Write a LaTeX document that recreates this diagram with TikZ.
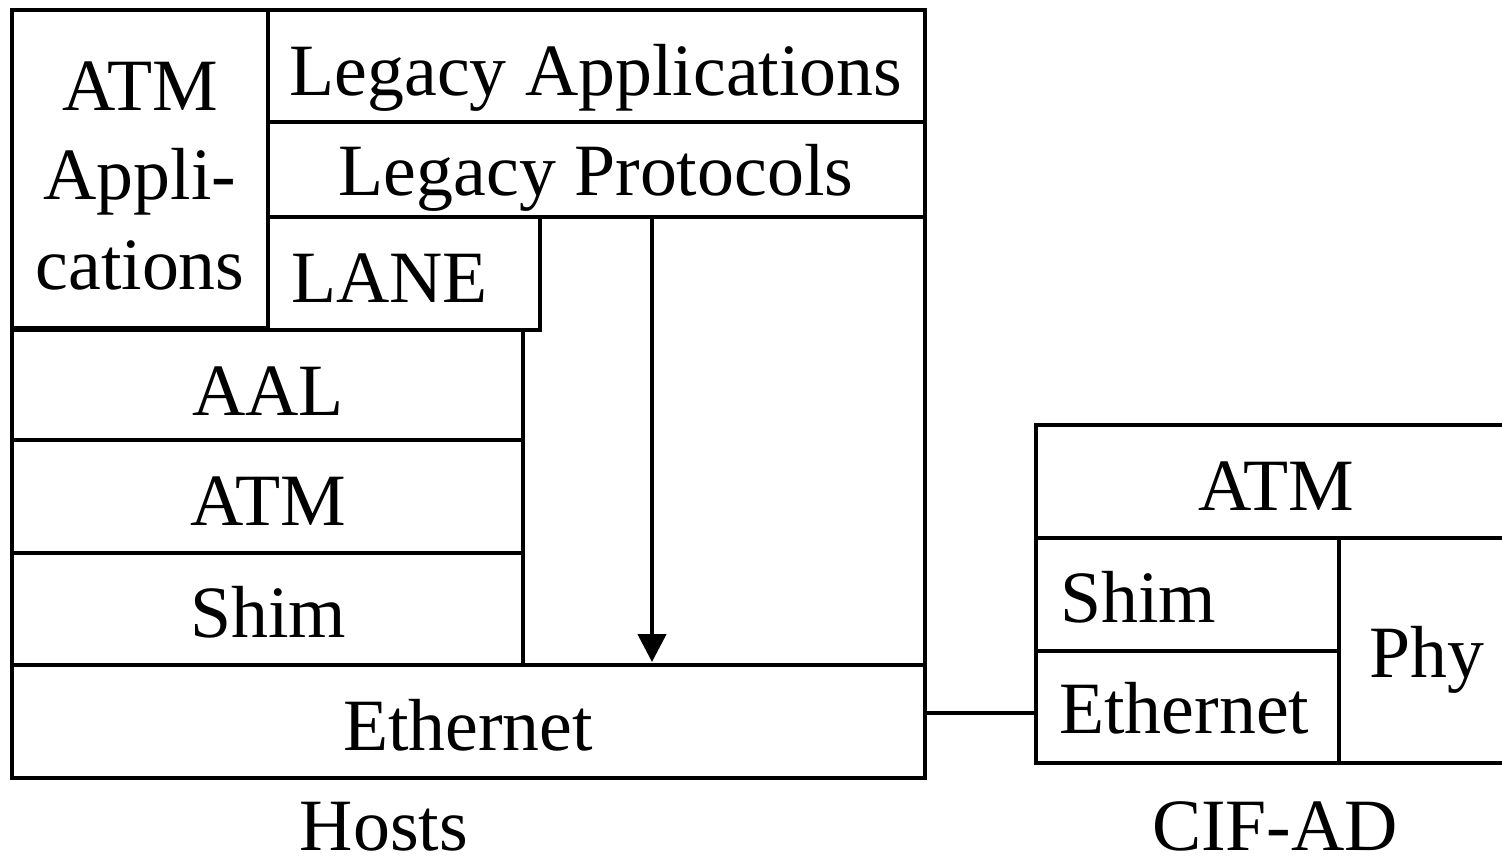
\documentclass[tikz,border=0pt]{standalone}
\usepackage{fontspec}
\setmainfont{Liberation Serif}
\usetikzlibrary{fit,arrows.meta}
\begin{document}
\begin{tikzpicture}[x=0.02cm,y=-0.02cm,
  box/.style={draw,line width=0.09cm,inner sep=0pt,outer sep=0pt},
  lbl/.style={anchor=base,inner sep=0pt,font=\fontsize{42}{50.6}\selectfont},
  lbll/.style={anchor=base west,inner sep=0pt,font=\fontsize{42}{50.6}\selectfont},
  conn/.style={line width=0.09cm},
  arr/.style={line width=0.09cm,-{Triangle[width=0.56cm,length=0.56cm]}}]
\clip (0,0) rectangle (1502,860);
\useasboundingbox (0,0) rectangle (1502,860);
% Hosts stack
\node[box,fit={(12,10)(268,328)}] (atmapp) {};
\node[box,fit={(268,10)(925,122)}] (legapp) {};
\node[box,fit={(268,122)(925,217)}] (legprot) {};
\node[box,fit={(268,217)(540,330)}] (lane) {};
\node[box,fit={(12,330)(523,440)}] (aal) {};
\node[box,fit={(12,440)(523,553)}] (atm) {};
\node[box,fit={(12,553)(523,665)}] (shim) {};
\node[box,fit={(12,665)(925,778)}] (eth) {};
\draw[conn] (legprot.north east) -- (eth.north east);
% labels
\node[lbl] (t1) at (140,110) {ATM};
\node[lbl] (t2) at (140,199) {Appli-};
\node[lbl] (t3) at (140,289) {cations};
\node[lbl] (tla) at (596,95) {Legacy Applications};
\node[lbl] (tlp) at (596,195) {Legacy Protocols};
\node[lbll] (tlane) at (291,302) {LANE};
\node[lbl] (taal) at (268,415) {AAL};
\node[lbl] (tatm) at (268,525) {ATM};
\node[lbl] (tshim) at (268,637) {Shim};
\node[lbl] (teth) at (468,750) {Ethernet};
\node[lbl] (thosts) at (384,850) {Hosts};
% arrow
\coordinate (ax) at (652,400);
\draw[arr] (legprot.south -| ax) -- ([yshift=0.06cm]eth.north -| ax);
% CIF-AD
\node[box,fit={(1036,425)(1530,538)}] (ratm) {};
\node[box,fit={(1036,538)(1339,651)}] (rshim) {};
\node[box,fit={(1036,651)(1339,763)}] (reth) {};
\node[box,fit={(1339,538)(1530,763)}] (rphy) {};
\node[lbl] (tratm) at (1276,510) {ATM};
\node[lbll] (trshim) at (1060,622) {Shim};
\node[lbll] (treth) at (1059,733) {Ethernet};
\node[lbl] (trphy) at (1427,677) {Phy};
\node[lbl] (tcif) at (1275,850) {CIF-AD};
% connector
\coordinate (cy) at (980,713);
\draw[conn] (eth.east |- cy) -- (reth.west |- cy);
\end{tikzpicture}
\end{document}
